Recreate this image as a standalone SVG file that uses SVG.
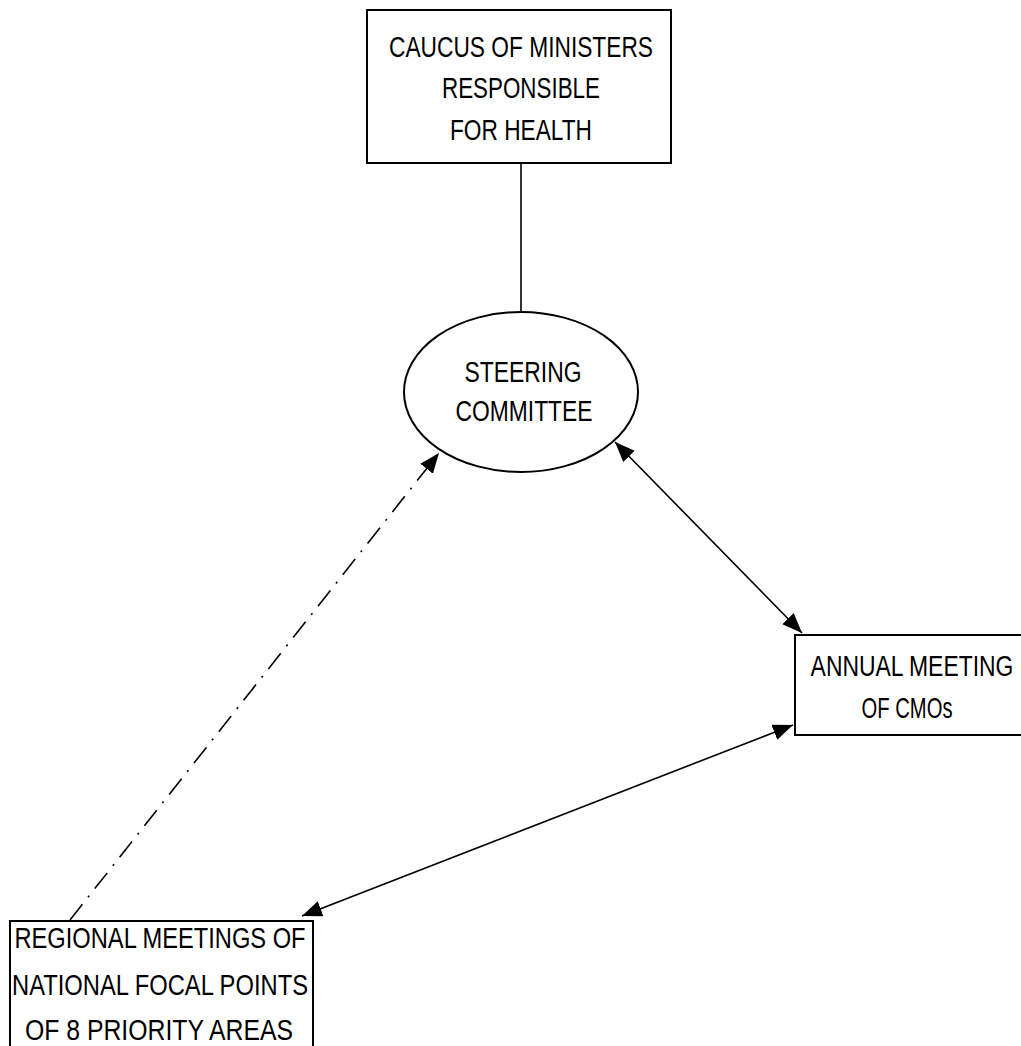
<svg xmlns="http://www.w3.org/2000/svg" width="1021" height="1046" viewBox="0 0 1021 1046">
<style>
.box{fill:#fff;stroke:#000;stroke-width:2}
.t{font-family:"Liberation Sans","DejaVu Sans",sans-serif;font-size:29px;fill:#000;text-anchor:middle}
.con{fill:none;stroke:#000;stroke-width:1.6}
</style>
<defs>
<marker id="ah" markerUnits="userSpaceOnUse" markerWidth="22" markerHeight="18" refX="20" refY="8" orient="auto-start-reverse">
<path d="M0,0 L20,8 L0,16 z" fill="#000"/>
</marker>
</defs>
<rect width="1021" height="1046" fill="#fff"/>
<g id="connectors">
<line class="con" x1="521" y1="163" x2="521" y2="312"/>
<line class="con" x1="615" y1="442" x2="802" y2="633" marker-start="url(#ah)" marker-end="url(#ah)"/>
<line class="con" x1="793" y1="725" x2="302" y2="916" marker-start="url(#ah)" marker-end="url(#ah)"/>
<line class="con" x1="70" y1="920" x2="439" y2="453" stroke-dasharray="20 9 2 9" marker-end="url(#ah)"/>
</g>
<g id="caucus">
<rect class="box" x="367" y="10" width="304" height="153"/>
<text class="t" x="521" y="57" textLength="264" lengthAdjust="spacingAndGlyphs">CAUCUS OF MINISTERS</text>
<text class="t" x="521" y="98" textLength="158" lengthAdjust="spacingAndGlyphs">RESPONSIBLE</text>
<text class="t" x="521" y="140" textLength="142" lengthAdjust="spacingAndGlyphs">FOR HEALTH</text>
</g>
<g id="steering">
<ellipse class="box" cx="521" cy="392" rx="117" ry="80"/>
<text class="t" x="523" y="382" textLength="117" lengthAdjust="spacingAndGlyphs">STEERING</text>
<text class="t" x="524" y="421" textLength="137" lengthAdjust="spacingAndGlyphs">COMMITTEE</text>
</g>
<g id="annual">
<rect class="box" x="795" y="635" width="240" height="100"/>
<text class="t" transform="translate(912,676) scale(0.79,1)" x="0" y="0">ANNUAL MEETING</text>
<text class="t" x="907" y="718" textLength="91" lengthAdjust="spacingAndGlyphs">OF CMOs</text>
</g>
<g id="regional">
<rect class="box" x="10" y="921" width="303" height="140"/>
<text class="t" x="160" y="948" textLength="291" lengthAdjust="spacingAndGlyphs">REGIONAL MEETINGS OF</text>
<text class="t" x="160" y="995" textLength="296" lengthAdjust="spacingAndGlyphs">NATIONAL FOCAL POINTS</text>
<text class="t" x="159" y="1040" textLength="268" lengthAdjust="spacingAndGlyphs">OF 8 PRIORITY AREAS</text>
</g>
</svg>
